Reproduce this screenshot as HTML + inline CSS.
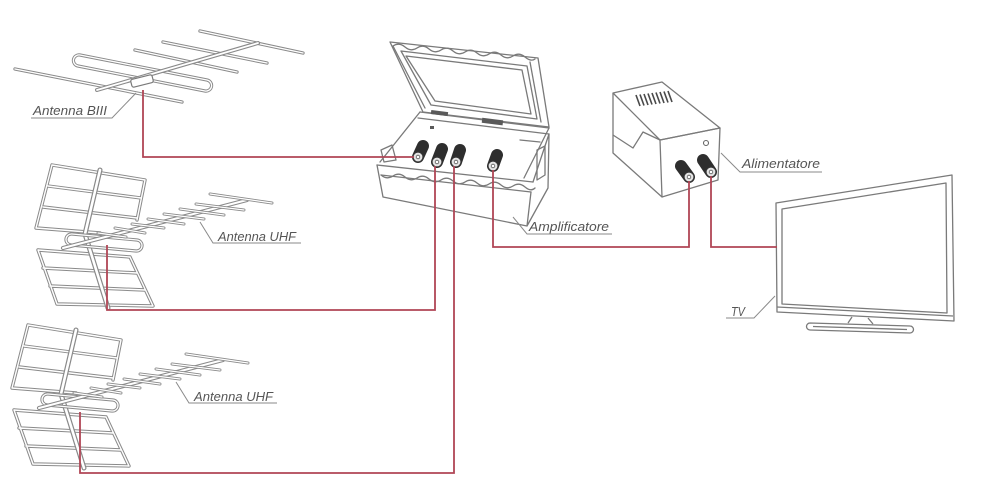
<!DOCTYPE html>
<html><head><meta charset="utf-8"><style>
html,body{margin:0;padding:0;background:#fff;}
svg{display:block;}
.lbl{font-family:"Liberation Sans",sans-serif;font-style:italic;font-size:13px;fill:#555;}
</style></head><body>
<svg width="1000" height="500" viewBox="0 0 1000 500" xmlns="http://www.w3.org/2000/svg">
<defs>
  <g id="biiiRods"><path d="M200,31 L303,53 M163,42 L267,63 M135,50 L237,72 M15,69 L182,102"/></g>
  <g id="biiiLoop"><path d="M80,55 L207,80 A5.5,5.5 0 0 1 205,91 L78,66 A5.5,5.5 0 0 1 80,55 Z"/></g>
  <g id="biiiBoom"><path d="M97,90 L258,43"/></g>

  <g id="uhfPanels"><path d="M52,165 L145,180 M48,186 L141,198 M43,207 L137,218 M36,228 L100,233 M52,165 L36,228 M145,180 L137,220 M38,250 L130,257 M43,268 L137,273 M50,286 L145,290 M57,304 L153,306 M38,250 L57,304 M130,257 L153,306"/></g>
  <g id="uhfMast"><path d="M100,170 L85,234 L108,308"/></g>
  <g id="uhfLoop"><path d="M72,234 L137,240 A5.5,5.5 0 0 1 136,251 L71,245 A5.5,5.5 0 0 1 72,234 Z"/></g>
  <g id="uhfBoom"><path d="M63,248 L247,200"/></g>
  <g id="uhfDir"><path d="M98,233 L126,237 M115,228 L145,233 M132,224 L164,228 M148,219 L184,224 M164,214 L204,219 M180,209 L224,215 M196,204 L244,210 M210,194 L272,203"/></g>
</defs>

<!-- Antenna BIII -->
<g fill="none" stroke-linecap="round">
  <use href="#biiiRods" stroke="#8a8a8a" stroke-width="3.4"/>
  <use href="#biiiRods" stroke="#fff" stroke-width="1.4"/>
  <use href="#biiiLoop" stroke="#8a8a8a" stroke-width="3.2"/>
  <use href="#biiiLoop" stroke="#fff" stroke-width="1.3"/>
  <use href="#biiiBoom" stroke="#8a8a8a" stroke-width="4"/>
  <use href="#biiiBoom" stroke="#fff" stroke-width="1.8"/>
  <rect x="131" y="77" width="22" height="8" rx="2" transform="rotate(-14 142 81)" fill="#fff" stroke="#7a7a7a" stroke-width="1.2"/>
</g>

<!-- Antenna UHF 1 and 2 -->
<g id="uhf1" fill="none" stroke-linecap="round">
  <use href="#uhfPanels" stroke="#8a8a8a" stroke-width="3.4"/>
  <use href="#uhfPanels" stroke="#fff" stroke-width="1.4"/>
  <use href="#uhfMast" stroke="#8a8a8a" stroke-width="5"/>
  <use href="#uhfMast" stroke="#fff" stroke-width="2.6"/>
  <use href="#uhfLoop" stroke="#8a8a8a" stroke-width="3.2"/>
  <use href="#uhfLoop" stroke="#fff" stroke-width="1.3"/>
  <use href="#uhfBoom" stroke="#8a8a8a" stroke-width="4.2"/>
  <use href="#uhfBoom" stroke="#fff" stroke-width="2"/>
  <use href="#uhfDir" stroke="#8a8a8a" stroke-width="3"/>
  <use href="#uhfDir" stroke="#fff" stroke-width="1.2"/>
</g>
<use href="#uhf1" transform="translate(-24,160)"/>

<!-- Amplifier -->
<g fill="none" stroke="#7a7a7a" stroke-width="1.3" stroke-linejoin="round" stroke-linecap="round">
  <path d="M390,42 L538,58 L549,127 L423,112 Z" fill="#fff"/>
  <path d="M401,51 L527,66 L537,119 L431,105 Z"/>
  <path d="M406,56 L522,70 L531,114 L435,101 Z"/>
  <path d="M393,46 q6,-4 12,1 q6,5 12,1 q6,-4 12,1 q6,5 12,1 q6,-4 12,1 q6,5 12,1 q6,-4 12,1 q6,5 12,1 q6,-4 12,1 q6,5 12,1 q6,-4 12,1 q6,5 10,2"/>
  <path d="M393,46 L425,108 M530,62 L541,122"/>
  <path d="M420,112 L549,128 M418,118 L549,134"/>
  <path d="M420,112 L380,162 M549,128 L524,178" />
  <path d="M377,165 L533,182 M381,175 L531,192"/>
  <path d="M381,175 q6,5 12,1 q6,-4 12,1 q6,5 12,1 q6,-4 12,1 q6,5 12,1 q6,-4 12,1 q6,5 12,1 q6,-4 12,1 q6,5 12,1 q6,-4 12,1 q6,5 12,1 q6,-4 12,1 q6,5 10,1"/>
  <path d="M377,165 L383,197 L527,226 L531,192 M533,182 L549,134 L548,188 L527,226"/>
  <path d="M381,150 L392,145 L396,160 L384,162 Z"/>
  <path d="M537,150 L545,146 L545,175 L537,180 Z"/>
  <path d="M520,140 L540,142"/>
</g>
<g fill="#5a5a5a">
  <rect x="431" y="111" width="17" height="4" transform="rotate(7 439 113)"/>
  <rect x="482" y="119" width="21" height="5" transform="rotate(7 492 121)"/>
  <rect x="430" y="126" width="4" height="3"/>
</g>
<!-- amp connectors -->
<g stroke-linecap="round">
  <line x1="418" y1="157" x2="423" y2="146" stroke="#2e2e2e" stroke-width="12"/>
  <circle cx="418" cy="157" r="5" fill="#e4e4e4" stroke="#333" stroke-width="1.2"/><circle cx="418" cy="157" r="1.8" fill="#fff" stroke="#555" stroke-width="0.8"/>
  <line x1="437" y1="162" x2="442" y2="149" stroke="#2e2e2e" stroke-width="12"/>
  <circle cx="437" cy="162" r="5" fill="#e4e4e4" stroke="#333" stroke-width="1.2"/><circle cx="437" cy="162" r="1.8" fill="#fff" stroke="#555" stroke-width="0.8"/>
  <line x1="456" y1="162" x2="460" y2="150" stroke="#2e2e2e" stroke-width="12"/>
  <circle cx="456" cy="162" r="5" fill="#e4e4e4" stroke="#333" stroke-width="1.2"/><circle cx="456" cy="162" r="1.8" fill="#fff" stroke="#555" stroke-width="0.8"/>
  <line x1="493" y1="166" x2="497" y2="155" stroke="#2e2e2e" stroke-width="12"/>
  <circle cx="493" cy="166" r="5" fill="#e4e4e4" stroke="#333" stroke-width="1.2"/><circle cx="493" cy="166" r="1.8" fill="#fff" stroke="#555" stroke-width="0.8"/>
</g>

<!-- Alimentatore -->
<g fill="none" stroke="#7a7a7a" stroke-width="1.3" stroke-linejoin="round">
  <path d="M613,93 L662,82 L720,128 L660,140 Z"/>
  <path d="M613,93 L613,153 L662,197 L660,140"/>
  <path d="M660,140 L720,128 L718,180 L662,197"/>
  <path d="M613,135 L633,148 L643,132 L660,140"/>
</g>
<g stroke="#4a4a4a" stroke-width="1.6">
  <path d="M636,95 L640,106 M640,94.5 L644,105.5 M644,94 L648,105 M648,93.5 L652,104.5 M652,93 L656,104 M656,92.5 L660,103.5 M660,92 L664,103 M664,91.5 L668,102.5 M668,91 L672,102"/>
</g>
<circle cx="706" cy="143" r="2.5" fill="#fff" stroke="#666" stroke-width="1.1"/>
<g stroke-linecap="round">
  <line x1="689" y1="177" x2="681" y2="166" stroke="#2e2e2e" stroke-width="12"/>
  <circle cx="689" cy="177" r="5" fill="#e4e4e4" stroke="#333" stroke-width="1.2"/><circle cx="689" cy="177" r="1.8" fill="#fff" stroke="#555" stroke-width="0.8"/>
  <line x1="711" y1="172" x2="703" y2="160" stroke="#2e2e2e" stroke-width="12"/>
  <circle cx="711" cy="172" r="5" fill="#e4e4e4" stroke="#333" stroke-width="1.2"/><circle cx="711" cy="172" r="1.8" fill="#fff" stroke="#555" stroke-width="0.8"/>
</g>

<!-- TV -->
<g fill="none" stroke="#7a7a7a" stroke-width="1.3" stroke-linejoin="round">
  <path d="M776,203 L952,175 L954,321 L777,312 Z"/>
  <path d="M782,209 L946,183 L947,313 L782,304 Z"/>
  <path d="M777,307 L953,316"/>
  <path d="M852,317 L848,323 M868,318 L873,324"/>
  <path d="M810,323 L910,326 A3.5,3.5 0 0 1 910,333 L810,330 A3.5,3.5 0 0 1 810,323 Z"/>
  <path d="M813,326.5 L907,329.5"/>
</g>

<!-- Red cables -->
<g fill="none" stroke="#b04656" stroke-width="1.8" stroke-linejoin="miter">
  <path d="M143,90 V157 H414"/>
  <path d="M107,245 V310 H435 V166"/>
  <path d="M80,412 V473 H454 V166"/>
  <path d="M493,170 V247 H689 V181"/>
  <path d="M711,176 V247 H777"/>
</g>

<!-- Leaders & labels -->
<g fill="none" stroke="#8a8a8a" stroke-width="1">
  <path d="M136,93 L112,118 L31,118"/>
  <path d="M200,222 L213,243 L301,243"/>
  <path d="M176,382 L189,403 L277,403"/>
  <path d="M513,217 L527,234 L612,234"/>
  <path d="M721,153 L740,172 L822,172"/>
  <path d="M775,296 L754,318 L726,318"/>
</g>
<text class="lbl" x="33" y="115" textLength="74" lengthAdjust="spacingAndGlyphs">Antenna BIII</text>
<text class="lbl" x="218" y="241" textLength="78" lengthAdjust="spacingAndGlyphs">Antenna UHF</text>
<text class="lbl" x="194" y="401" textLength="79" lengthAdjust="spacingAndGlyphs">Antenna UHF</text>
<text class="lbl" x="529" y="231" textLength="80" lengthAdjust="spacingAndGlyphs">Amplificatore</text>
<text class="lbl" x="742" y="168" textLength="78" lengthAdjust="spacingAndGlyphs">Alimentatore</text>
<text class="lbl" x="731" y="316" textLength="14" lengthAdjust="spacingAndGlyphs">TV</text>
</svg>
</body></html>
